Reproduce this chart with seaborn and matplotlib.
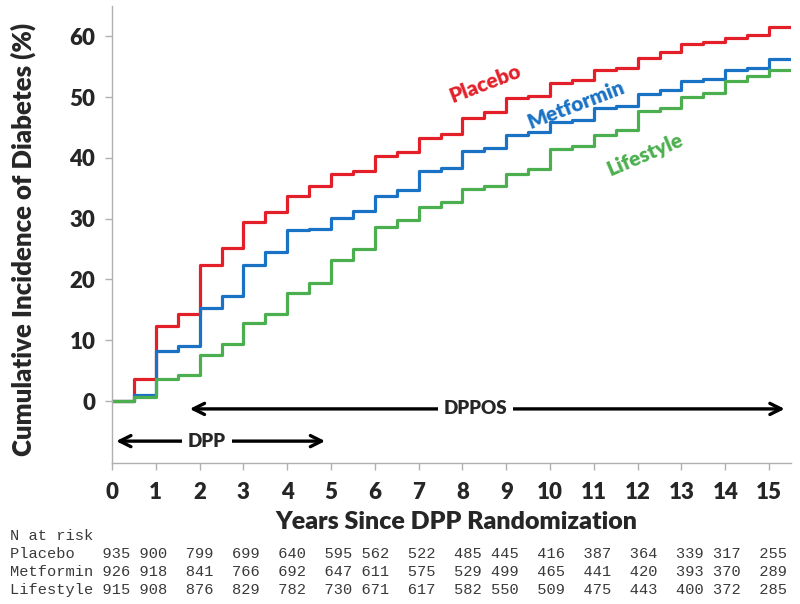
import numpy as np
import pandas as pd
import seaborn as sns
import matplotlib.pyplot as plt

# step times (years) - last point repeats the final level so the step reaches the axis end
years = np.arange(0, 16, 0.5)

placebo = [0, 3.6, 12.4, 14.4, 22.3, 25.1, 29.4, 31.1, 33.7, 35.3, 37.3, 37.8, 40.3, 40.9,
           43.3, 44.0, 46.5, 47.6, 49.8, 50.2, 52.3, 52.9, 54.4, 54.8, 56.5, 57.4, 58.8,
           59.0, 59.7, 60.2, 61.5, 61.5]
metformin = [0, 1.0, 8.3, 9.1, 15.3, 17.2, 22.4, 24.6, 28.1, 28.3, 30.1, 31.2, 33.7, 34.8,
             37.8, 38.4, 41.1, 41.7, 43.7, 44.2, 45.9, 46.3, 48.2, 48.6, 50.5, 51.1, 52.7,
             53.0, 54.4, 54.8, 56.2, 56.2]
lifestyle = [0, 0.7, 3.6, 4.2, 7.6, 9.4, 12.9, 14.3, 17.8, 19.5, 23.2, 25.0, 28.7, 29.8,
             32.0, 32.8, 34.9, 35.3, 37.3, 38.1, 41.4, 41.9, 43.7, 44.6, 47.7, 48.2, 50.1,
             50.7, 52.6, 53.4, 54.5, 54.5]

groups = ['Placebo', 'Metformin', 'Lifestyle']
colors = {'Placebo': '#e3202a', 'Metformin': '#1a72c4', 'Lifestyle': '#4caf4f'}

# number at risk, one value per year 0..15
n_placebo = [935, 900, 799, 699, 640, 595, 562, 522, 485, 445, 416, 387, 364, 339, 317, 255]
n_metformin = [926, 918, 841, 766, 692, 647, 611, 575, 529, 499, 465, 441, 420, 393, 370, 289]
n_lifestyle = [915, 908, 876, 829, 782, 730, 671, 617, 582, 550, 509, 475, 443, 400, 372, 285]
gaps = [1, 2, 2, 2, 2, 1, 2, 2, 1, 2, 2, 2, 2, 1, 2]

dpp_span = (0.03, 4.93)
dppos_span = (1.71, 15.42)

df = pd.concat([
    pd.DataFrame({'Years': years, 'Incidence': vals, 'Group': g})
    for g, vals in zip(groups, [placebo, metformin, lifestyle])
])

sns.set_style('white')
plt.rcParams['font.family'] = ['Lato', 'DejaVu Sans']

fig = plt.figure(figsize=(8, 6.04), dpi=100)
ax = fig.add_axes([112 / 800, 1 - 463 / 604, (791 - 112) / 800, (463 - 6) / 604])

sns.lineplot(data=df, x='Years', y='Incidence', hue='Group', hue_order=groups,
             palette=colors, drawstyle='steps-post', linewidth=2.3, legend=False, ax=ax)

ax.set_xlim(0, 15.5)
ax.set_ylim(-10.2, 65)
ax.set_xticks(range(0, 16))
ax.set_yticks(range(0, 61, 10))
for lab in ax.get_xticklabels() + ax.get_yticklabels():
    lab.set_fontweight('heavy')
ax.tick_params(axis='x', labelsize=16, pad=9, length=5, width=1, color='#b0b0b0', direction='out', bottom=True)
ax.tick_params(axis='y', labelsize=16, pad=7, length=5, width=1, color='#b0b0b0', direction='out', left=True)
sns.despine(ax=ax)
for side in ['left', 'bottom']:
    ax.spines[side].set_color('#b0b0b0')
    ax.spines[side].set_linewidth(1)

ax.set_xlabel('Years Since DPP Randomization', fontsize=18, fontweight='heavy')
ax.set_ylabel('Cumulative Incidence of Diabetes (%)', fontsize=18.5, fontweight='heavy')
ax.xaxis.label.set_va('center')
ax.xaxis.set_label_coords(0.507, -0.129)
ax.yaxis.label.set_va('center')
ax.yaxis.set_label_coords(-0.131, 0.49)

# curve labels
ax.text(8.52, 52.3, 'Placebo', color=colors['Placebo'], fontsize=15, fontweight='heavy',
        rotation=21, ha='center', va='center')
ax.text(10.59, 48.8, 'Metformin', color=colors['Metformin'], fontsize=15, fontweight='heavy',
        rotation=21, ha='center', va='center')
ax.text(12.16, 40.5, 'Lifestyle', color=colors['Lifestyle'], fontsize=15, fontweight='heavy',
        rotation=23, ha='center', va='center')

# study period arrows
arrow = dict(arrowstyle='<->', lw=2.4, color='black', mutation_scale=20)
ax.annotate('', xy=(dppos_span[1], -1.3), xytext=(dppos_span[0], -1.3), arrowprops=arrow)
ax.text(8.3, -1.3, 'DPPOS', ha='center', va='center', fontsize=13.5, fontweight='heavy',
        bbox=dict(fc='white', ec='none', pad=4))
ax.annotate('', xy=(dpp_span[1], -6.6), xytext=(dpp_span[0], -6.6), arrowprops=arrow)
ax.text(2.17, -6.6, 'DPP', ha='center', va='center', fontsize=13.5, fontweight='heavy',
        bbox=dict(fc='white', ec='none', pad=4))


def risk_row(name, counts):
    s = name.ljust(10) + str(counts[0])
    for g, c in zip(gaps, counts[1:]):
        s += ' ' * g + str(c)
    return s


rows = ['N at risk', risk_row('Placebo', n_placebo), risk_row('Metformin', n_metformin),
        risk_row('Lifestyle', n_lifestyle)]
for i, row in enumerate(rows):
    fig.text(10 / 800, 1 - (536 + 18 * i) / 604, row, family='Liberation Mono', fontsize=11.1,
             color='#3a3a3a', ha='left', va='center')

fig.savefig('out.png', dpi=100, facecolor='white')
